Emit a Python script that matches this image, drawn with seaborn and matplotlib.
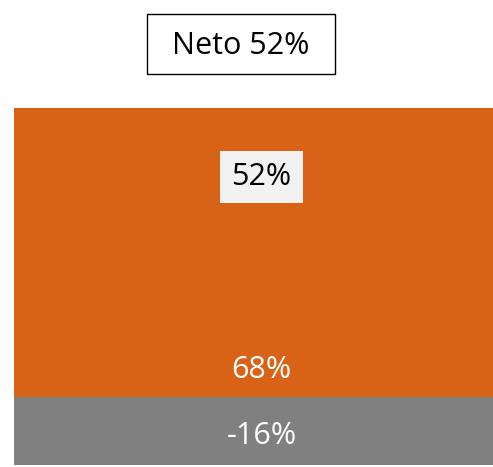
import matplotlib
matplotlib.use("Agg")
import matplotlib.pyplot as plt
from matplotlib.patches import Rectangle
import seaborn as sns
import pandas as pd

categories = ["Positivo", "Negativo"]
values = [68, -16]
colors = ["#D86316", "#808080"]
net_value = 52
title_text = "Neto 52%"

sns.set_theme(style="white")
plt.rcParams["font.family"] = ["Open Sans", "DejaVu Sans"]

df = pd.DataFrame({"grupo": categories, "valor": values, "x": ["Total", "Total"]})

fig = plt.figure(figsize=(4.93, 4.67), dpi=100)
# the bar runs past the right edge of the picture
ax = fig.add_axes([14 / 493, 0, 495 / 493, 359 / 467])

for cat, col in zip(categories, colors):
    sub = df[df["grupo"] == cat]
    sns.barplot(data=sub, x="x", y="valor", color=col, width=1.0, ax=ax,
                saturation=1, linewidth=0)

ax.set_xlim(-0.5, 0.5)
ax.set_ylim(-16.5, 68)
ax.axis("off")

# etiquetas
ax.text(0, values[0] - 61.7, f"{values[0]}%", ha="center", va="center",
        color="white", fontsize=22)
ax.text(0, values[1] / 2 - 1.3, f"{values[1]}%", ha="center", va="center",
        color="white", fontsize=22)
ax.text(0, net_value - 0.2, f"{net_value}%", ha="center", va="center",
        color="black", fontsize=22,
        bbox=dict(boxstyle="square,pad=0.36", facecolor="#F2F2F2", edgecolor="none"))

fig.text(241 / 493, 1 - 46 / 467, title_text, ha="center", va="center",
         fontsize=22, color="black")
fig.patches.append(Rectangle((147 / 493, 1 - 74 / 467), 188 / 493, 60 / 467,
                             transform=fig.transFigure, fill=False,
                             edgecolor="black", linewidth=1))

fig.savefig("out.png", dpi=100)
